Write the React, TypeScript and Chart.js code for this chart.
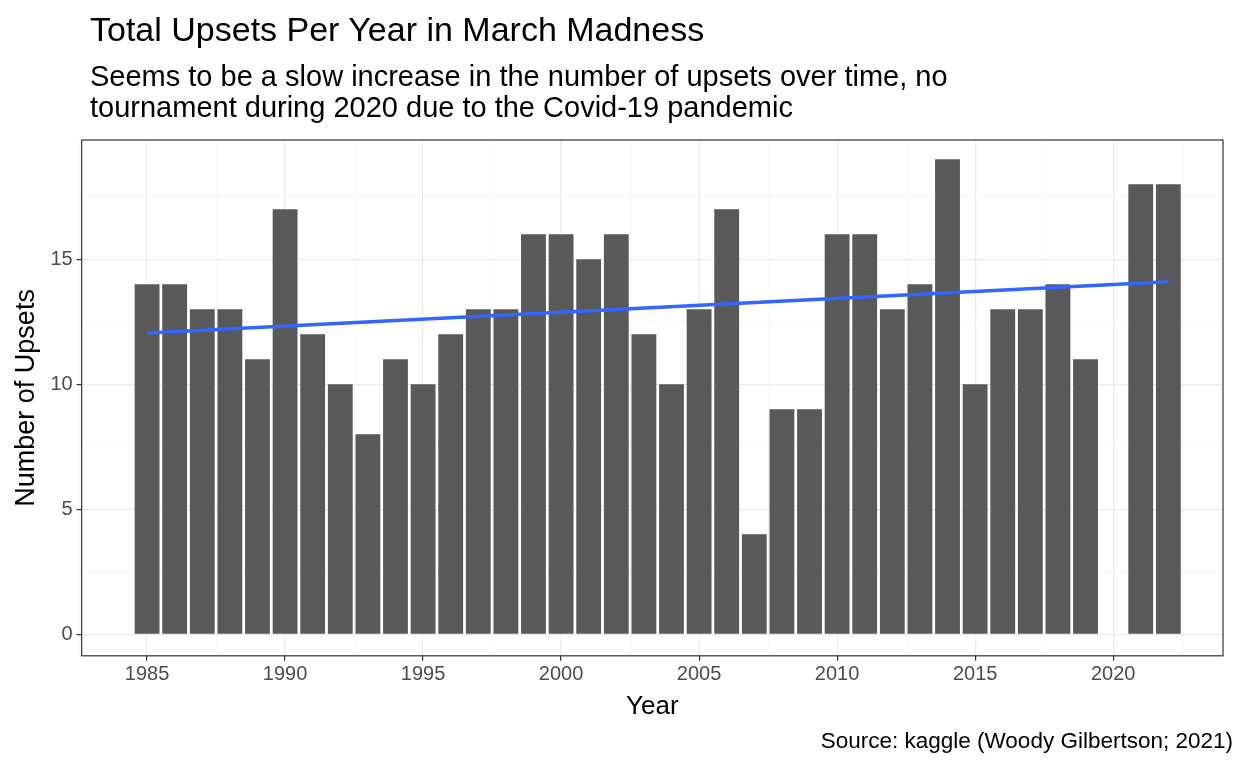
import React, { useEffect, useRef } from 'react';
import Chart from 'chart.js/auto';

const years = [
  1985, 1986, 1987, 1988, 1989, 1990, 1991, 1992, 1993, 1994, 1995, 1996, 1997,
  1998, 1999, 2000, 2001, 2002, 2003, 2004, 2005, 2006, 2007, 2008, 2009, 2010,
  2011, 2012, 2013, 2014, 2015, 2016, 2017, 2018, 2019, 2021, 2022,
];
const upsets = [
  14, 14, 13, 13, 11, 17, 12, 10, 8, 11, 10, 12, 13, 13, 16, 16, 15, 16, 12, 10,
  13, 17, 4, 9, 9, 16, 16, 13, 14, 19, 10, 13, 13, 14, 11, 18, 18,
];
// fitted trend at its ends
const trendYears = [1985, 2022];
const trendValues = [12.05, 14.1];

const xTicks = [1982.5, 1985, 1987.5, 1990, 1992.5, 1995, 1997.5, 2000, 2002.5, 2005, 2007.5, 2010, 2012.5, 2015, 2017.5, 2020, 2022.5];
const yTicks = [0, 2.5, 5, 7.5, 10, 12.5, 15, 17.5];

const isMajor = (v: number) => v % 5 === 0;
const FONT = 'Liberation Sans, Arial, sans-serif';

const frame = {
  id: 'frame',
  afterDraw(chart: any) {
    const { ctx, chartArea: a } = chart;
    ctx.save();
    ctx.strokeStyle = '#333333';
    ctx.lineWidth = 1.2;
    ctx.strokeRect(a.left, a.top, a.right - a.left, a.bottom - a.top);
    ctx.restore();
  },
};

const LineGraph: React.FC = () => {
  const ref = useRef<HTMLCanvasElement>(null);
  const inst = useRef<Chart>();

  useEffect(() => {
    const ctx = ref.current?.getContext('2d');
    if (!ctx) return;
    if (inst.current) inst.current.destroy();
    const gridOpts = {
      offset: false,
      color: (c: any) => (isMajor(c.tick?.value) ? '#EBEBEB' : '#F2F2F2'),
      lineWidth: (c: any) => (isMajor(c.tick?.value) ? 1.2 : 0.7),
      tickColor: (c: any) => (isMajor(c.tick?.value) ? '#333333' : 'rgba(0,0,0,0)'),
      tickLength: 5,
    };
    inst.current = new Chart(ctx, {
      type: 'bar',
      data: {
        datasets: [
          {
            type: 'bar',
            data: years.map((y, i) => ({ x: y, y: upsets[i] })),
            backgroundColor: '#595959',
            barPercentage: 0.9,
            categoryPercentage: 1,
            order: 2,
          },
          {
            type: 'line',
            data: trendYears.map((y, i) => ({ x: y, y: trendValues[i] })),
            borderColor: '#3366FF',
            borderWidth: 3.5,
            pointRadius: 0,
            order: 1,
          } as any,
        ],
      },
      plugins: [frame],
      options: {
        animation: false,
        responsive: false,
        layout: { padding: { top: 140, left: 6, right: 25, bottom: 42 } },
        plugins: { legend: { display: false }, tooltip: { enabled: false } },
        scales: {
          x: {
            type: 'linear',
            min: 1982.63,
            max: 2023.98,
            offset: false,
            afterBuildTicks: (s: any) => { s.ticks = xTicks.map((v) => ({ value: v })); },
            ticks: {
              autoSkip: false,
              maxRotation: 0,
              padding: 2,
              color: '#4D4D4D',
              font: { family: FONT, size: 20 },
              callback: (v: any) => (isMajor(Number(v)) ? String(v) : ''),
            },
            grid: gridOpts,
            border: { display: false },
            title: { display: true, text: 'Year', color: '#000', font: { family: FONT, size: 26 }, padding: { top: 2 } },
          },
          y: {
            min: -0.86,
            max: 19.77,
            afterBuildTicks: (s: any) => { s.ticks = yTicks.map((v) => ({ value: v })); },
            ticks: {
              autoSkip: false,
              padding: 4,
              color: '#4D4D4D',
              font: { family: FONT, size: 20 },
              callback: (v: any) => (isMajor(Number(v)) ? String(v) : ''),
            },
            grid: gridOpts,
            border: { display: false },
            title: { display: true, text: 'Number of Upsets', color: '#000', font: { family: FONT, size: 27 } },
          },
        },
      },
    });
    return () => {
      if (inst.current) inst.current.destroy();
    };
  }, []);

  return <canvas ref={ref} width={1248} height={768} style={{ position: 'absolute', left: 0, top: 0 }}></canvas>;
};

export default function App() {
  return (
    <div style={{ position: 'fixed', left: 0, top: 0, width: 1248, height: 768, background: '#fff', fontFamily: FONT }}>
      <LineGraph />
      <div style={{ position: 'absolute', left: 90, top: 10, fontSize: 34, color: '#000', whiteSpace: 'nowrap' }}>
        Total Upsets Per Year in March Madness
      </div>
      <div style={{ position: 'absolute', left: 90, top: 61, fontSize: 29, lineHeight: '31px', color: '#000', whiteSpace: 'nowrap' }}>
        Seems to be a slow increase in the number of upsets over time, no
        <br />
        tournament during 2020 due to the Covid-19 pandemic
      </div>
      <div style={{ position: 'absolute', right: 15, top: 728, fontSize: 22.5, color: '#000', whiteSpace: 'nowrap' }}>
        Source: kaggle (Woody Gilbertson; 2021)
      </div>
    </div>
  );
}
